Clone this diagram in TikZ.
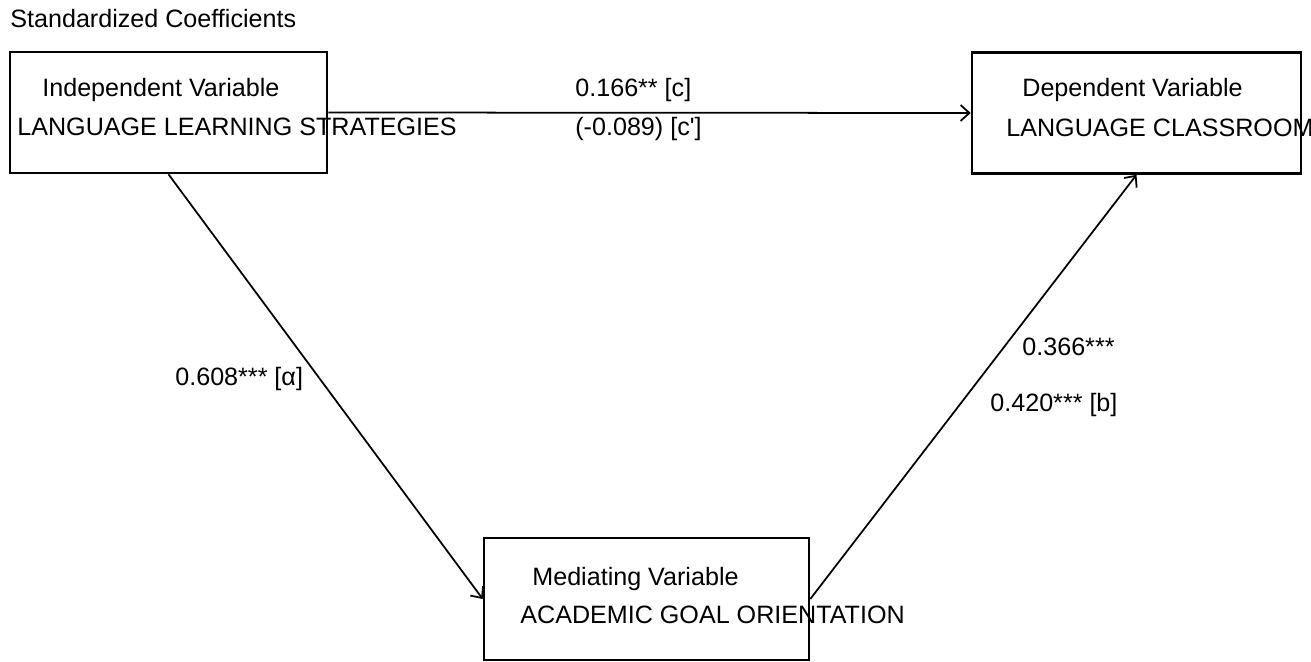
\documentclass[tikz,border=0pt]{standalone}
\usepackage{fontspec}
\setmainfont{Liberation Sans}
\usepackage{tikz}
\usetikzlibrary{arrows.meta}

\tikzset{
	varbox/.style={draw, line width=1.5pt, inner sep=0pt, minimum height=2.42cm},
	lbl/.style={anchor=base west, inner sep=0pt, font=\fontsize{14.3pt}{17pt}\selectfont},
	path/.style={-{Straight Barb[length=5pt,width=9pt]}, line width=1pt}
}

\begin{document}
\begin{tikzpicture}[x=0.02cm,y=-0.02cm]
	\useasboundingbox (0,0) rectangle (1311,662);
	\node[lbl] (title) at (10,28) {Standardized Coefficients};
	\node[varbox,minimum width=6.34cm] (indep) at (168.5,112.5) {};
	\node[varbox,minimum width=6.58cm] (dep) at (1136.5,113) {};
	\node[varbox,minimum width=6.5cm,minimum height=2.44cm] (med) at (646.5,599) {};
	\node[lbl] (indeptype) at (42,97) {Independent Variable};
	\node[lbl] (indepname) at (17,136) {LANGUAGE LEARNING STRATEGIES};
	\node[lbl] (deptype) at (1022,97) {Dependent Variable};
	\node[lbl] (depname) at (1006,137) {LANGUAGE CLASSROOM};
	\node[lbl] (medtype) at (532,585) {Mediating Variable};
	\node[lbl] (medname) at (520,623) {ACADEMIC GOAL ORIENTATION};
	\draw[path] (indep.east) -- (dep.west);
	\draw[path] (indep.south) -- (med.west);
	\draw[path] (med.east) -- (dep.south);
	\node[lbl] (ctotal) at (575,97) {0.166** [c]};
	\node[lbl] (cdirect) at (575,136) {(-0.089) [c\textquotesingle]};
	\node[lbl] (apath) at (175,385) {0.608*** [α]};
	\node[lbl] (bfirst) at (1022,355) {0.366***};
	\node[lbl] (bpath) at (990,411) {0.420*** [b]};
\end{tikzpicture}
\end{document}
